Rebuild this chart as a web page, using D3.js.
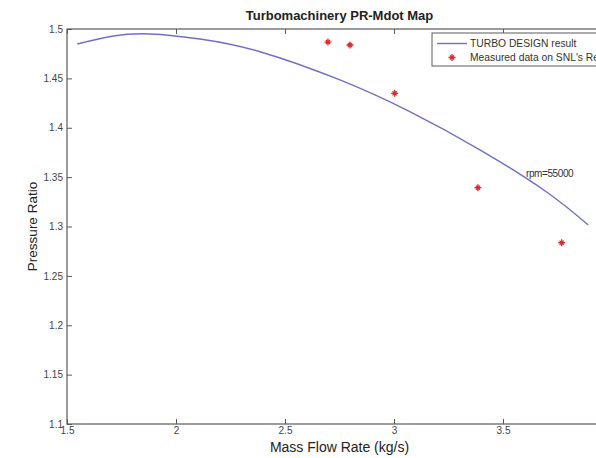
<!DOCTYPE html>
<html><head><meta charset="utf-8">
<script src="https://cdn.jsdelivr.net/npm/d3@7"></script>
<style>body{margin:0;background:#fff;overflow:hidden}svg{display:block}text{font-family:Arial,"Liberation Sans",sans-serif}</style>
</head><body><svg id="c" width="596" height="458"></svg>
<script>
const curveX = [1.547, 1.712, 1.881, 2.110, 2.385, 2.752, 3.070, 3.394, 3.700, 3.891];
const curveY = [1.4848, 1.4929, 1.4950, 1.4899, 1.4770, 1.4484, 1.4166, 1.3777, 1.3349, 1.3015];
const measX = [2.697, 2.798, 3.003, 3.385, 3.769];
const measY = [1.4868, 1.4838, 1.4349, 1.3393, 1.2836];
const xTicks = [1.5, 2, 2.5, 3, 3.5];
const xTickLabels = ["1.5", "2", "2.5", "3", "3.5"];
const yTicks = [1.1, 1.15, 1.2, 1.25, 1.3, 1.35, 1.4, 1.45, 1.5];
const yTickLabels = ["1.1", "1.15", "1.2", "1.25", "1.3", "1.35", "1.4", "1.45", "1.5"];
const title = "Turbomachinery PR-Mdot Map";
const xLabel = "Mass Flow Rate (kg/s)";
const yLabel = "Pressure Ratio";
const legendLabels = ["TURBO DESIGN result", "Measured data on SNL's Report"];
const annotation = {x: 3.61, y: 1.35, text: "rpm=55000"};

const svg = d3.select("#c");
const L = 67, R = 612, T = 29, B = 424;
const x = d3.scaleLinear().domain([1.5, 4]).range([L, R]);
const y = d3.scaleLinear().domain([1.1, 1.5]).range([B, T]);
const axisCol = "#5a5a5a", txtCol = "#444";

// box
svg.append("rect").attr("x", L).attr("y", T).attr("width", R - L).attr("height", B - T)
  .attr("fill", "none").attr("stroke", axisCol).attr("stroke-width", 1.2);

// bottom axis
const gx = svg.append("g").attr("transform", `translate(0,${B})`)
  .call(d3.axisBottom(x).tickValues(xTicks).tickFormat((d, i) => xTickLabels[i]).tickSizeInner(-5).tickSizeOuter(0).tickPadding(3));
gx.select(".domain").remove();
gx.selectAll("line").attr("stroke", axisCol);
gx.selectAll("text").attr("fill", txtCol).attr("font-size", 10);

// top ticks
const gt = svg.append("g").attr("transform", `translate(0,${T})`)
  .call(d3.axisTop(x).tickValues(xTicks).tickFormat("").tickSizeInner(-5).tickSizeOuter(0));
gt.select(".domain").remove();
gt.selectAll("line").attr("stroke", axisCol);

// left axis
const gy = svg.append("g").attr("transform", `translate(${L},0)`)
  .call(d3.axisLeft(y).tickValues(yTicks).tickFormat((d, i) => yTickLabels[i]).tickSizeInner(-5).tickSizeOuter(0).tickPadding(4));
gy.select(".domain").remove();
gy.selectAll("line").attr("stroke", axisCol);
gy.selectAll("text").attr("fill", txtCol).attr("font-size", 10);

// line
const pts = curveX.map((v, i) => [v, curveY[i]]);
svg.append("path").datum(pts)
  .attr("d", d3.line().x(d => x(d[0])).y(d => y(d[1])).curve(d3.curveNatural))
  .attr("fill", "none").attr("stroke", "#6f6fc8").attr("stroke-width", 1.4);

// markers (asterisk)
const star = (cx, cy, s) => `M${cx - s},${cy}L${cx + s},${cy}M${cx},${cy - s}L${cx},${cy + s}` +
  `M${cx - s * 0.6},${cy - s * 0.6}L${cx + s * 0.6},${cy + s * 0.6}M${cx - s * 0.6},${cy + s * 0.6}L${cx + s * 0.6},${cy - s * 0.6}`;
svg.append("g").selectAll("path").data(measX.map((v, i) => [v, measY[i]])).join("path")
  .attr("d", d => star(x(d[0]), y(d[1]), 3.5))
  .attr("stroke", "#e0262e").attr("stroke-width", 1.3).attr("fill", "none");

// annotation
svg.append("text").attr("x", x(annotation.x) - 1).attr("y", y(annotation.y))
  .attr("font-size", 10).attr("fill", "#333").attr("letter-spacing", -0.4).text(annotation.text);

// title & labels
svg.append("text").attr("x", (L + R) / 2).attr("y", 20).attr("text-anchor", "middle")
  .attr("font-size", 13).attr("font-weight", "bold").attr("fill", "#222").text(title);
svg.append("text").attr("x", (L + R) / 2).attr("y", 452).attr("text-anchor", "middle")
  .attr("font-size", 14).attr("fill", "#222").text(xLabel);
svg.append("text").attr("transform", `translate(37,${(T + B) / 2}) rotate(-90)`).attr("text-anchor", "middle")
  .attr("font-size", 13.5).attr("fill", "#222").text(yLabel);

// legend
const lg = svg.append("g");
lg.append("rect").attr("x", 432).attr("y", 33).attr("width", 200).attr("height", 33)
  .attr("fill", "#fff").attr("stroke", axisCol).attr("stroke-width", 1);
lg.append("line").attr("x1", 437).attr("x2", 467).attr("y1", 43.5).attr("y2", 43.5)
  .attr("stroke", "#6f6fc8").attr("stroke-width", 1.4);
lg.append("path").attr("d", star(452, 57.5, 3.5)).attr("stroke", "#e0262e").attr("stroke-width", 1.3);
lg.selectAll("text.l").data(legendLabels).join("text").attr("class", "l")
  .attr("x", 470).attr("y", (d, i) => 47 + i * 14).attr("font-size", 10.3).attr("fill", "#333").text(d => d);
</script></body></html>
